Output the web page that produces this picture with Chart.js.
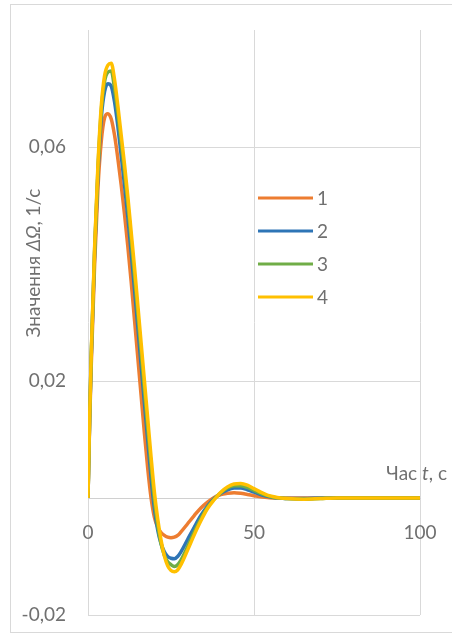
<!DOCTYPE html>
<html><head><meta charset="utf-8">
<script src="https://cdn.jsdelivr.net/npm/chart.js@4.4.1/dist/chart.umd.min.js"></script>
<style>
html,body{margin:0;padding:0;background:#fff;width:452px;height:636px;overflow:hidden;}
#frame{position:absolute;left:10px;top:4px;width:460px;height:629px;border:1px solid #d9d9d9;box-sizing:border-box;}
#c{position:absolute;left:0;top:0;}
</style></head><body>
<div id="frame"></div>
<canvas id="c" width="452" height="636"></canvas>
<script>
// ---- data ----
const time = [0,0.5,1,2,3,4,5,6,7,8,9,10,11,12,13,14,15,16,17,18,19,20,21,22,23,24,25,26,27,28,30,32,34,36,38,40,42,44,46,48,50,52,54,56,58,60,65,70,75,80,85,90,95,100];
const series1 = [0,0.013,0.023,0.040,0.053,0.061,0.0650,0.0657,0.0648,0.0620,0.0580,0.0535,0.0485,0.043,0.037,0.0305,0.024,0.0175,0.011,0.005,0,-0.0033,-0.0050,-0.0059,-0.0064,-0.0067,-0.0068,-0.0067,-0.0064,-0.0058,-0.0044,-0.0030,-0.0017,-0.0007,0.0001,0.0006,0.0008,0.0009,0.0008,0.0006,0.0004,0.0002,0.0001,0,0,0,0,0,0,0,0,0,0,0];
const series2 = [0,0.0135,0.0245,0.042,0.0555,0.065,0.0695,0.0708,0.0704,0.0677,0.0635,0.0585,0.0535,0.048,0.042,0.0357,0.0293,0.0227,0.0162,0.0098,0.0035,-0.0018,-0.0055,-0.0078,-0.0092,-0.0100,-0.0103,-0.0104,-0.0100,-0.0092,-0.0071,-0.0050,-0.0030,-0.0014,-0.0001,0.0008,0.0014,0.0017,0.0017,0.0014,0.001,0.0006,0.0003,0.0001,0,-0.0001,-0.0001,0,0,0,0,0,0,0];
const series3 = [0,0.0138,0.0248,0.0425,0.0563,0.0662,0.0712,0.0728,0.0730,0.0700,0.0657,0.0607,0.0557,0.0502,0.0442,0.0379,0.0315,0.0249,0.0183,0.0118,0.0055,-0.0004,-0.0047,-0.0078,-0.0098,-0.0109,-0.0114,-0.0117,-0.0114,-0.0106,-0.0083,-0.0058,-0.0035,-0.0016,-0.0002,0.0009,0.0017,0.0021,0.0021,0.0018,0.0013,0.0008,0.0004,0.0001,0,-0.0001,-0.0002,-0.0001,0,0,0,0,0,0];
const series4 = [0,0.014,0.025,0.043,0.057,0.067,0.0722,0.0740,0.0743,0.0715,0.067,0.062,0.057,0.0515,0.0455,0.0395,0.033,0.0265,0.020,0.0135,0.007,0.001,-0.0036,-0.0072,-0.0099,-0.0116,-0.0124,-0.0126,-0.0123,-0.0114,-0.0089,-0.0063,-0.0039,-0.0018,-0.0003,0.001,0.0019,0.0024,0.0025,0.0022,0.0016,0.001,0.0005,0.0002,0,-0.0001,-0.0002,-0.0001,0,0,0,0,0,0];
const seriesLabels = ['1','2','3','4'];
const yTickValues = [-0.02, 0.02, 0.06];
const xTickValues = [0, 50, 100];
const yTitle = ['Значення ', 'ΔΩ', ', 1/с'];   // middle part italic
const xTitle = ['Час ', 't', ', с'];          // middle part italic

// ---- styling ----
const FONT = 'Lato, "Open Sans", sans-serif';
const TEXT = '#707070';
const GRID = '#d9d9d9';
const NONE = 'rgba(0,0,0,0)';
const colors = ['#ED7D31','#2E75B6','#70AD47','#FFC000'];

const allSeries = [series1, series2, series3, series4];
const datasets = allSeries.map((s, i) => ({
  label: seriesLabels[i],
  data: time.map((t, k) => ({x: t, y: s[k]})),
  borderColor: colors[i],
  backgroundColor: colors[i],
  borderWidth: 3.5,
  pointRadius: 0,
  fill: false,
  cubicInterpolationMode: 'monotone',
  order: allSeries.length - i
}));

function drawRich(ctx, parts, x, y, size) {
  let cx = x;
  parts.forEach((p, i) => {
    ctx.font = (i === 1 ? 'italic ' : '') + size + 'px ' + FONT;
    ctx.fillText(p, cx, y);
    cx += ctx.measureText(p).width;
  });
}
function richWidth(ctx, parts, size) {
  let w = 0;
  parts.forEach((p, i) => {
    ctx.font = (i === 1 ? 'italic ' : '') + size + 'px ' + FONT;
    w += ctx.measureText(p).width;
  });
  return w;
}

const decor = {
  id: 'decor',
  afterDraw(chart) {
    const ctx = chart.ctx;
    ctx.save();
    ctx.fillStyle = TEXT;
    ctx.textBaseline = 'middle';
    ctx.textAlign = 'left';
    const size = 19;
    const wy = richWidth(ctx, yTitle, size);
    ctx.save();
    ctx.translate(34, 263);
    ctx.rotate(-Math.PI / 2);
    drawRich(ctx, yTitle, -wy / 2, 0, size);
    ctx.restore();
    const wx = richWidth(ctx, xTitle, size);
    drawRich(ctx, xTitle, 447 - wx, 474, size);
    chart.data.datasets.forEach((ds, i) => {
      const y = 198 + i * 33;
      ctx.strokeStyle = ds.borderColor;
      ctx.lineWidth = 3;
      ctx.beginPath();
      ctx.moveTo(258, y);
      ctx.lineTo(313, y);
      ctx.stroke();
      ctx.font = size + 'px ' + FONT;
      ctx.fillStyle = TEXT;
      ctx.fillText(ds.label, 317, y + 1);
    });
    ctx.restore();
  }
};

new Chart(document.getElementById('c'), {
  type: 'line',
  data: { datasets },
  options: {
    responsive: false,
    animation: false,
    devicePixelRatio: 1,
    layout: { padding: { left: 0, top: 30, right: 32, bottom: 21 } },
    plugins: { legend: { display: false }, tooltip: { enabled: false } },
    scales: {
      x: {
        type: 'linear',
        position: { y: 0 },
        min: 0, max: 100,
        afterBuildTicks: s => { s.ticks = xTickValues.map(v => ({ value: v })); },
        grid: { color: GRID, lineWidth: 1, drawTicks: true, tickLength: 23, tickColor: NONE },
        border: { display: true, color: '#d0d0d0', width: 1 },
        ticks: { color: TEXT, font: { family: FONT, size: 19 }, padding: 0, maxRotation: 0 }
      },
      y: {
        type: 'linear',
        position: 'left',
        min: -0.02, max: 0.08,
        afterBuildTicks: s => { s.ticks = yTickValues.map(v => ({ value: v })); },
        afterFit: s => { s.width = 88; },
        grid: { color: GRID, lineWidth: 1, drawTicks: true, tickLength: 22, tickColor: NONE },
        border: { display: false },
        ticks: {
          color: TEXT, font: { family: FONT, size: 19 }, padding: 0,
          callback: v => v.toFixed(2).replace('.', ',')
        }
      }
    }
  },
  plugins: [decor]
});
</script>
</body></html>
